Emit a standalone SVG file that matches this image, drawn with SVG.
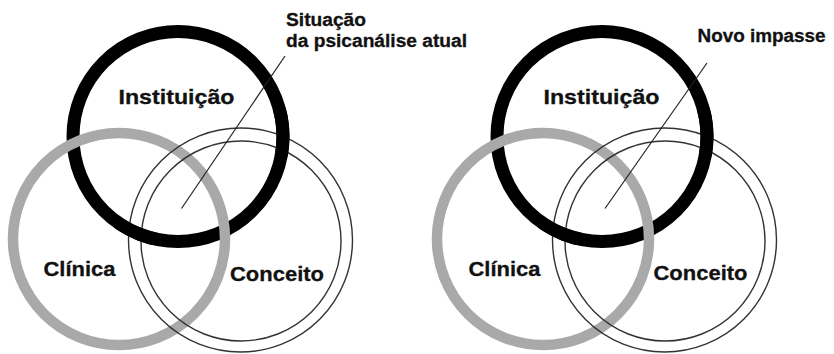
<svg xmlns="http://www.w3.org/2000/svg" xmlns:xlink="http://www.w3.org/1999/xlink" width="834" height="354" viewBox="0 0 834 354">
<style>
.blk{fill:none;stroke:#000;stroke-width:13}
.gry{fill:none;stroke:#a9a9a9;stroke-width:10.5}
.dbl{fill:none;stroke:#333;stroke-width:1.4}
.lbl{font-family:"Liberation Sans",Arial,sans-serif;font-weight:bold;fill:#111;stroke:#111;stroke-width:0.3}
.big{font-size:21px}
.sm{font-size:17.5px}
.lead{stroke:#222;stroke-width:1.2;fill:none}
</style>
<defs>
<circle id="cBlack" cx="178" cy="136.5" r="105" class="blk"/>
<clipPath id="xClip"><circle cx="136" cy="230" r="22"/><circle cx="283" cy="132" r="25"/></clipPath>
</defs>
<rect width="834" height="354" fill="#fff"/>
<g id="left-diagram">
<g id="l-instituicao"><use xlink:href="#cBlack"/></g>
<g id="l-clinica"><circle cx="119" cy="239" r="106" class="gry"/></g>
<g id="l-conceito"><circle cx="240.5" cy="240" r="112" class="dbl"/><circle cx="241" cy="241" r="100" class="dbl"/></g>
<g id="l-instituicao-over" clip-path="url(#xClip)"><use xlink:href="#cBlack"/></g>
<text class="lbl big" x="118.5" y="103.5" textLength="116" lengthAdjust="spacingAndGlyphs">Instituição</text>
<text class="lbl big" x="43.5" y="276" textLength="72" lengthAdjust="spacingAndGlyphs">Clínica</text>
<text class="lbl big" x="230" y="281" textLength="94" lengthAdjust="spacingAndGlyphs">Conceito</text>
</g>
<g id="right-diagram">
<g transform="translate(424,0)">
<g id="r-instituicao"><use xlink:href="#cBlack"/></g>
<g id="r-clinica"><circle cx="119" cy="239" r="106" class="gry"/></g>
<g id="r-conceito"><circle cx="240.5" cy="240" r="112" class="dbl"/><circle cx="241" cy="241" r="100" class="dbl"/></g>
<g id="r-instituicao-over" clip-path="url(#xClip)"><use xlink:href="#cBlack"/></g>
</g>
<text class="lbl big" x="543.5" y="103.5" textLength="116" lengthAdjust="spacingAndGlyphs">Instituição</text>
<text class="lbl big" x="468.5" y="275.5" textLength="72" lengthAdjust="spacingAndGlyphs">Clínica</text>
<text class="lbl big" x="653.5" y="280" textLength="94" lengthAdjust="spacingAndGlyphs">Conceito</text>
</g>
<g id="connectors">
<line class="lead" x1="285" y1="56" x2="181.5" y2="208.5"/>
<line class="lead" x1="707" y1="63" x2="605" y2="208.5"/>
</g>
<g id="annotations">
<text class="lbl sm" x="286" y="25.5" textLength="80" lengthAdjust="spacingAndGlyphs">Situação</text>
<text class="lbl sm" x="286" y="46.5" textLength="181" lengthAdjust="spacingAndGlyphs">da psicanálise atual</text>
<text class="lbl sm" x="697.5" y="41.5" textLength="128" lengthAdjust="spacingAndGlyphs">Novo impasse</text>
</g>
</svg>
